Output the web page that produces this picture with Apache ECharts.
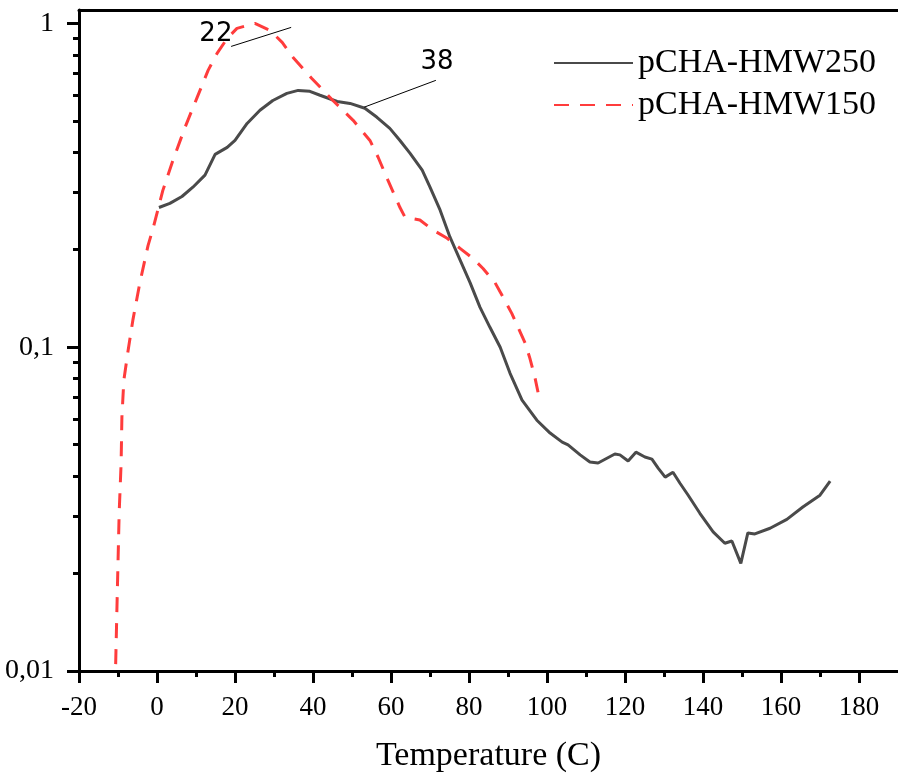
<!DOCTYPE html>
<html>
<head>
<meta charset="utf-8">
<script src="https://cdn.jsdelivr.net/npm/echarts@6/dist/echarts.min.js"></script>
<style>html,body{margin:0;padding:0;background:#fff}#c{width:898px;height:782px}</style>
</head>
<body>
<div id="c"></div>
<script>
// Series: pCHA-HMW250 (solid dark grey)
const hmw250X = [0.5,3.3,6.4,9.2,12.3,14.9,18.0,20.0,23.1,26.4,29.7,33.3,36.2,39.2,41.8,46.2,49.5,53.3,56.4,59.7,62.3,64.9,68.0,70.0,72.6,75.1,77.7,80.3,82.8,85.4,88.0,90.5,93.6,97.4,100.8,103.9,105.4,108.5,111.0,113.1,117.4,118.7,120.8,122.8,125.1,126.9,128.5,130.3,132.3,134.1,136.2,139.2,142.6,145.6,147.4,149.7,151.5,153.3,157.2,161.5,165.6,170.0,172.6];
const hmw250Y = [0.270,0.278,0.292,0.312,0.340,0.394,0.414,0.435,0.491,0.539,0.578,0.608,0.621,0.617,0.600,0.574,0.566,0.547,0.513,0.474,0.435,0.397,0.352,0.312,0.265,0.219,0.186,0.158,0.133,0.115,0.100,0.0832,0.0686,0.0595,0.0543,0.0509,0.0499,0.0465,0.0442,0.0439,0.0468,0.0465,0.0445,0.0474,0.0458,0.0451,0.0423,0.0397,0.0411,0.0380,0.0349,0.0307,0.0269,0.0248,0.0252,0.0215,0.0267,0.0265,0.0276,0.0294,0.0321,0.0349,0.0386];
// Series: pCHA-HMW150 (red dashed)
const hmw150X = [-10.6,-10.3,-10.0,-9.7,-9.2,-9.0,-8.5,-7.4,-6.2,-4.4,-2.3,-1.0,1.5,4.1,7.2,10.3,13.1,15.4,18.0,20.5,25.1,29.0,32.1,34.9,39.7,45.1,50.3,54.6,56.7,59.2,62.3,63.6,67.4,70.8,74.4,77.7,81.0,83.6,86.7,88.7,91.0,92.6,94.4,95.6,96.9,97.7];
const hmw150Y = [0.0105,0.0151,0.0216,0.0308,0.0439,0.0608,0.0791,0.0979,0.121,0.158,0.206,0.233,0.305,0.378,0.478,0.591,0.716,0.808,0.899,0.965,1.0,0.951,0.874,0.785,0.676,0.578,0.502,0.435,0.386,0.328,0.270,0.252,0.247,0.230,0.217,0.202,0.188,0.175,0.158,0.143,0.127,0.115,0.103,0.0925,0.0807,0.0726];

const seriesNames = ['pCHA-HMW250', 'pCHA-HMW150'];
const xMajorTicks = [-20,0,20,40,60,80,100,120,140,160,180];
const xMinorTicks = [-10,10,30,50,70,90,110,130,150,170];
const yMajorTicks = [0.01, 0.1, 1];
const yMinorTicks = [0.02,0.03,0.04,0.05,0.06,0.07,0.08,0.09,0.2,0.3,0.4,0.5,0.6,0.7,0.8,0.9];
const yLabelText = {0.01: '0,01', 0.1: '0,1', 1: '1'};

// Annotations (data coordinates)
const annot22Line = [[19.0, 0.849], [34.4, 0.972]];
const annot22Text = [15.1, 0.925];
const annot38Line = [[53.1, 0.551], [71.5, 0.667]];
const annot38Text = [71.8, 0.758];

const zip = (xs, ys) => xs.map((x, i) => [x, ys[i]]);
const serif = 'Liberation Serif';
const black = '#000';

const chart = echarts.init(document.getElementById('c'), null, {renderer: 'canvas'});
chart.setOption({
  backgroundColor: '#fff',
  animation: false,
  grid: {left: 79, right: 0, top: 10, bottom: 111, containLabel: false},
  legend: {
    orient: 'vertical', left: 553, top: 46, padding: 0,
    itemWidth: 79, itemHeight: 14, itemGap: 8,
    itemStyle: {color: 'rgba(0,0,0,0)', borderWidth: 0, opacity: 0},
    textStyle: {fontFamily: serif, fontSize: 34, color: black, lineHeight: 34},
    data: seriesNames
  },
  xAxis: [
    {
      type: 'value', position: 'bottom', min: -20, max: 190,
      name: 'Temperature (C)', nameLocation: 'middle', nameGap: 68,
      nameTextStyle: {fontFamily: serif, fontSize: 34, color: black},
      axisLine: {show: true, onZero: false, lineStyle: {color: black, width: 3}},
      axisTick: {show: true, inside: false, length: 12, lineStyle: {color: black, width: 3}, customValues: xMajorTicks},
      axisLabel: {show: true, margin: 23, fontFamily: serif, fontSize: 27, color: black, customValues: xMajorTicks},
      splitLine: {show: false}
    },
    {
      type: 'value', position: 'bottom', min: -20, max: 190,
      axisLine: {show: false, onZero: false},
      axisTick: {show: true, inside: false, length: 6, lineStyle: {color: black, width: 3}, customValues: xMinorTicks},
      axisLabel: {show: false},
      splitLine: {show: false}
    },
    {
      type: 'value', position: 'top', min: -20, max: 190,
      axisLine: {show: true, onZero: false, lineStyle: {color: black, width: 3}},
      axisTick: {show: false}, axisLabel: {show: false}, splitLine: {show: false}
    }
  ],
  yAxis: [
    {
      type: 'log', logBase: 10, position: 'left', min: 0.01, max: 1.1,
      axisLine: {show: true, onZero: false, lineStyle: {color: black, width: 3}},
      axisTick: {show: true, inside: false, length: 12, lineStyle: {color: black, width: 3}, customValues: yMajorTicks},
      axisLabel: {show: true, margin: 25, fontFamily: serif, fontSize: 28, color: black, customValues: yMajorTicks,
        formatter: v => yLabelText[+Number(v).toPrecision(3)] || ''},
      splitLine: {show: false}
    },
    {
      type: 'log', logBase: 10, position: 'left', min: 0.01, max: 1.1,
      axisLine: {show: false, onZero: false},
      axisTick: {show: true, inside: false, length: 6, lineStyle: {color: black, width: 3}, customValues: yMinorTicks},
      axisLabel: {show: false}, splitLine: {show: false}
    }
  ],
  series: [
    {
      name: seriesNames[0], type: 'line', xAxisIndex: 0, yAxisIndex: 0,
      data: zip(hmw250X, hmw250Y), symbol: 'none', smooth: false,
      lineStyle: {color: '#4a4a4a', width: 3}, itemStyle: {color: '#4a4a4a'},
      markLine: {
        silent: true, symbol: 'none', label: {show: false},
        lineStyle: {color: black, width: 1, type: 'solid'},
        data: [[{coord: annot38Line[0]}, {coord: annot38Line[1]}]]
      },
      markPoint: {
        silent: true, symbol: 'circle', symbolSize: 1, itemStyle: {color: 'rgba(0,0,0,0)'},
        label: {show: true, position: 'inside', formatter: '38', fontFamily: 'DejaVu Sans', fontSize: 26, color: black},
        data: [{coord: annot38Text}]
      }
    },
    {
      name: seriesNames[1], type: 'line', xAxisIndex: 0, yAxisIndex: 0,
      data: zip(hmw150X, hmw150Y), symbol: 'none', smooth: false,
      lineStyle: {color: '#ff3c3c', width: 3, type: [15, 11]}, itemStyle: {color: '#ff3c3c'},
      markLine: {
        silent: true, symbol: 'none', label: {show: false},
        lineStyle: {color: black, width: 1, type: 'solid'},
        data: [[{coord: annot22Line[0]}, {coord: annot22Line[1]}]]
      },
      markPoint: {
        silent: true, symbol: 'circle', symbolSize: 1, itemStyle: {color: 'rgba(0,0,0,0)'},
        label: {show: true, position: 'inside', formatter: '22', fontFamily: 'DejaVu Sans', fontSize: 26, color: black},
        data: [{coord: annot22Text}]
      }
    }
  ]
});
</script>
</body>
</html>
